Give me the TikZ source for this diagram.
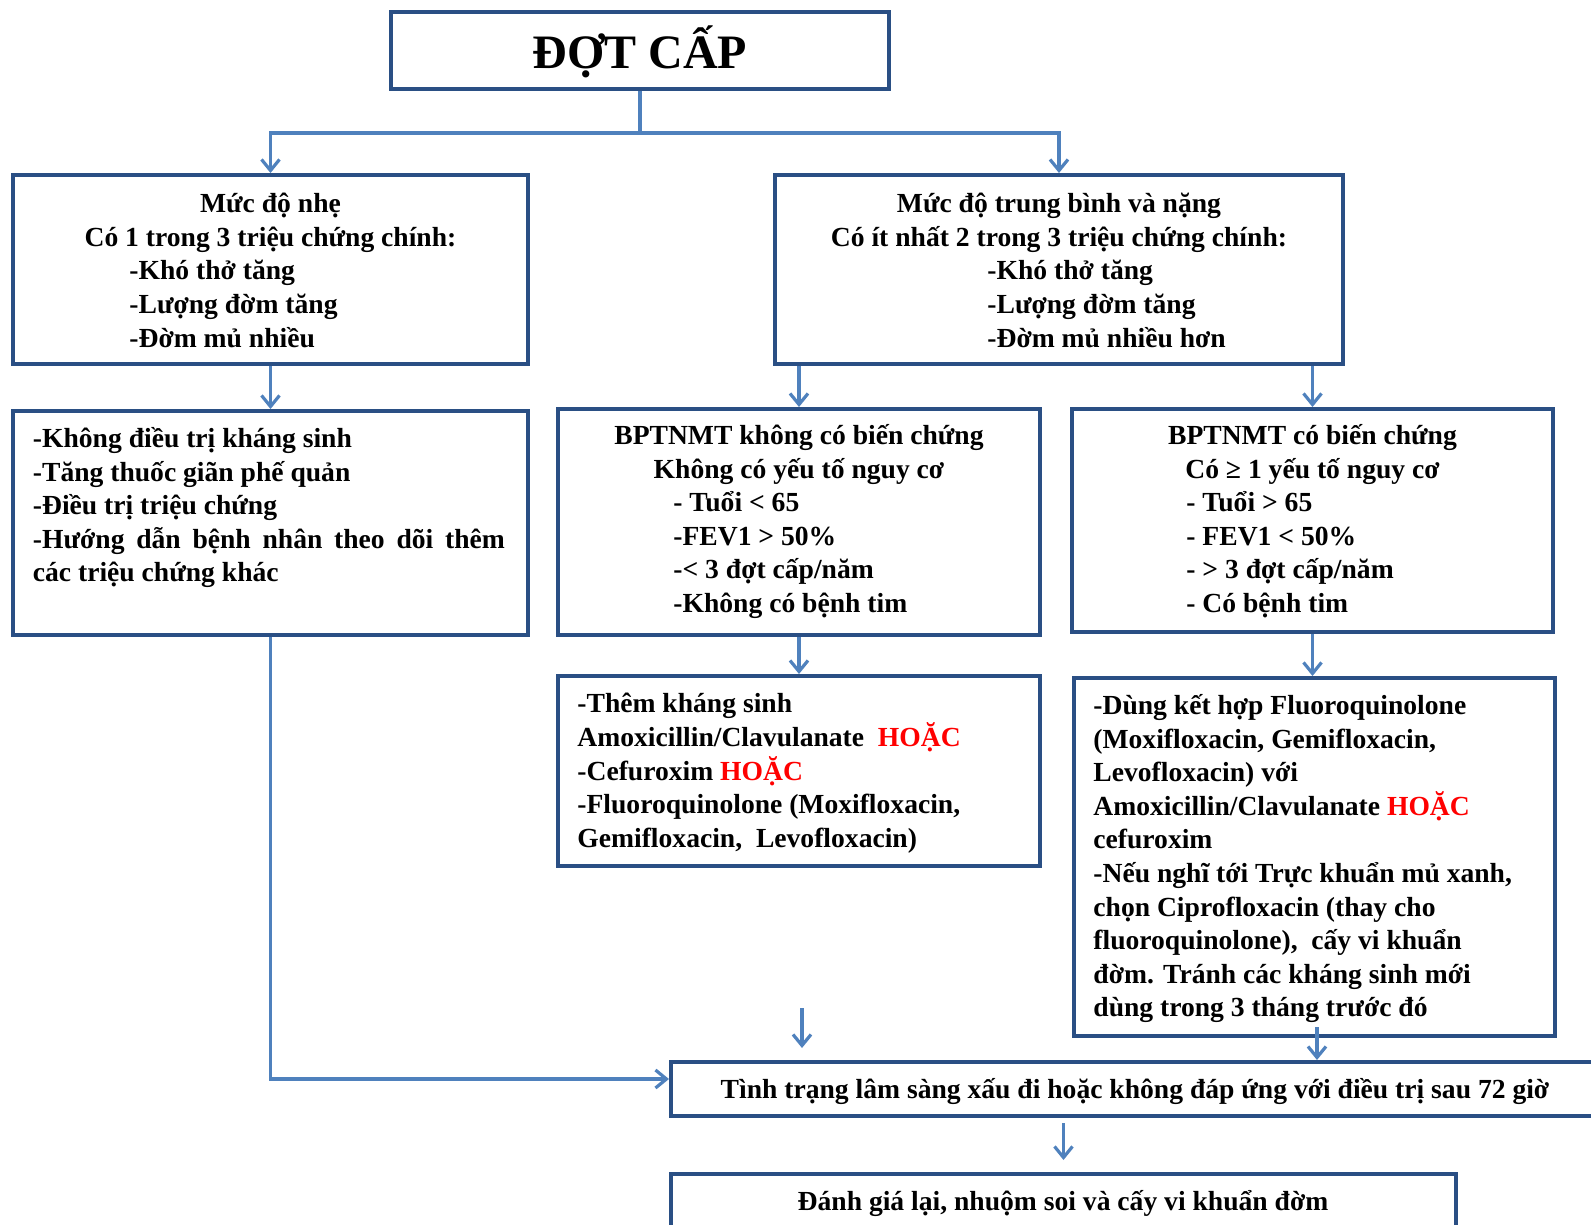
\documentclass[tikz,border=0pt]{standalone}
\usepackage{fontspec}
\setmainfont{Liberation Serif}
\usepackage{xcolor}
\usepackage{tikz}
\usetikzlibrary{arrows.meta, positioning, calc}
\definecolor{boxblue}{HTML}{2A4F84}
\definecolor{linkblue}{HTML}{4F81BD}
\hyphenpenalty=10000

\begin{document}
\begin{tikzpicture}[
		x=0.5pt, y=-0.5pt,
		box/.style={draw=boxblue, line width=2pt, inner sep=0pt},
		txt/.style={font=\bfseries\fontsize{13.8}{16.8}\selectfont, inner sep=0pt},
		head/.style={txt, align=center, anchor=north},
		list/.style={txt, align=left, anchor=north west},
		link/.style={draw=linkblue, line width=1.6pt},
		>={Straight Barb[length=5.5pt, width=9pt]}
	]
		\useasboundingbox (0,0) rectangle (1591,1225);

		% Title
		\node[box, minimum width=249pt, minimum height=38.5pt] (title) at (640,50.5) {};
		\node[font=\bfseries\fontsize{24}{28}\selectfont, anchor=base, inner sep=0pt] (titletext) at (640,69) {ĐỢT CẤP};

		% Severity
		\node[box, minimum width=257.5pt, minimum height=94.5pt] (mild) at (270.5,269.5) {};
		\node[head] (mildhead) at (270.5,193) {Mức độ nhẹ\\Có 1 trong 3 triệu chứng chính:};
		\node[list] (mildlist) at (129,260) {-Khó thở tăng\\-Lượng đờm tăng\\-Đờm mủ nhiều};

		\node[box, minimum width=284pt, minimum height=94.5pt] (moderate) at (1059,269.5) {};
		\node[head] (modhead) at (1059,193) {Mức độ trung bình và nặng\\Có ít nhất 2 trong 3 triệu chứng chính:};
		\node[list] (modlist) at (987,260) {-Khó thở tăng\\-Lượng đờm tăng\\-Đờm mủ nhiều hơn};

		% Mild: no antibiotic
		\node[box, minimum width=257.5pt, minimum height=112pt] (noabx) at (270.5,523) {};
		\node[txt, text width=236pt, align=justify, anchor=north west] (noabxtext) at (32.5,427)
			{-Không điều trị kháng sinh\\-Tăng thuốc giãn phế quản\\-Điều trị triệu chứng\\-Hướng dẫn bệnh nhân theo dõi thêm \linebreak các triệu chứng khác};

		% Moderate: risk groups
		\node[box, minimum width=241pt, minimum height=113pt] (nocompl) at (799,522) {};
		\node[head] (nocomplhead) at (799,424) {BPTNMT không có biến chứng\\Không có yếu tố nguy cơ};
		\node[list] (nocompllist) at (673,491) {- Tuổi < 65\\-FEV1 > 50\%\\-< 3 đợt cấp/năm\\-Không có bệnh tim};

		\node[box, minimum width=240.5pt, minimum height=111.5pt] (compl) at (1312.5,520.5) {};
		\node[head] (complhead) at (1312.5,424) {BPTNMT có biến chứng\\Có ≥ 1 yếu tố nguy cơ};
		\node[list] (compllist) at (1186,491) {- Tuổi > 65\\- FEV1 < 50\%\\- > 3 đợt cấp/năm\\- Có bệnh tim};

		% Treatments
		\node[box, minimum width=241pt, minimum height=95pt] (treatD) at (799,771) {};
		\node[list] (treatDtext) at (577,693)
			{-Thêm kháng sinh\\Amoxicillin/Clavulanate\ \ \textcolor{red}{HOẶC}\\-Cefuroxim \textcolor{red}{HOẶC}\\-Fluoroquinolone (Moxifloxacin,\\Gemifloxacin,\ \ Levofloxacin)};

		\node[box, minimum width=240.5pt, minimum height=179pt] (treatE) at (1314.5,857) {};
		\node[list] (treatEtext) at (1093,694)
			{-Dùng kết hợp Fluoroquinolone\\(Moxifloxacin, Gemifloxacin,\\Levofloxacin) với\\Amoxicillin/Clavulanate \textcolor{red}{HOẶC}\\cefuroxim\\-Nếu nghĩ tới Trực khuẩn mủ xanh,\\chọn Ciprofloxacin (thay cho\\fluoroquinolone),\ \ cấy vi khuẩn\\đờm. Tránh các kháng sinh mới\\dùng trong 3 tháng trước đó};

		% Follow-up
		\node[box, minimum width=464.5pt, minimum height=27pt] (worse) at (1135.5,1089) {};
		\node[txt, anchor=base] (worsetext) at (1135,1098) {Tình trạng lâm sàng xấu đi hoặc không đáp ứng với điều trị sau 72 giờ};
		\node[box, minimum width=392.5pt, minimum height=38pt] (reeval) at (1063.5,1212) {};
		\node[txt, anchor=base] (reevaltext) at (1063,1210) {Đánh giá lại, nhuộm soi và cấy vi khuẩn đờm};

		% Connectors
		\coordinate (fork) at (640,133);
		\draw[link] (title.south) -- (fork);
		\draw[link, ->] (fork) -| (mild.north);
		\draw[link, ->] (fork) -| (moderate.north);
		\draw[link, ->] (mild) -- (noabx);
		\draw[link, ->] (moderate.south -| nocompl.north) -- (nocompl.north);
		\draw[link, ->] (moderate.south -| compl.north) -- (compl.north);
		\draw[link, ->] (nocompl) -- (treatD);
		\draw[link, ->] (compl.south) -- (compl.south |- treatE.north);
		\coordinate (gout) at ([xshift=1.25pt, yshift=5.5pt]treatE.south);
		\draw[link, ->] (gout) -- (gout |- worse.north);
		\coordinate (strayA) at (802,1008);
		\coordinate (strayB) at (802,1048);
		\draw[link, ->] (strayA) -- (strayB);
		\draw[link, ->] (noabx.south) |- ([yshift=5pt]worse.west);
		\draw[link, ->, shorten <=2.5pt, shorten >=6pt] (worse.south -| reeval.north) -- (reeval.north);
	\end{tikzpicture}
\end{document}
